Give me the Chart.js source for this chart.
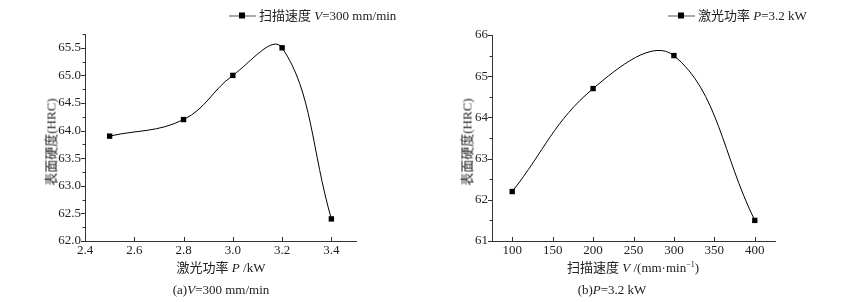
<!DOCTYPE html>
<html>
<head>
<meta charset="utf-8">
<script src="https://cdn.jsdelivr.net/npm/chart.js@4/dist/chart.umd.min.js"></script>
<style>
  html, body { margin: 0; padding: 0; background: #fff; }
  #wrap { position: relative; width: 847px; height: 302px; overflow: hidden; }
  canvas { position: absolute; top: 0; }
  .t {
    position: absolute;
    white-space: nowrap;
    transform: translate(-50%, -50%);
    font: 13px "Liberation Serif", "Noto Sans CJK SC", serif;
    color: #222;
    line-height: 1;
  }
  .t i { font-style: italic; }
  .t sup { font-size: 8px; vertical-align: 5px; }
  .rot { transform: translate(-50%, -50%) rotate(-90deg); }
  .leg { position: absolute; white-space: nowrap; font: 13px "Liberation Serif", "Noto Sans CJK SC", serif; color: #222; line-height: 1; transform: translateY(-50%); }
  .sym { display: inline-block; position: relative; width: 27px; height: 10px; vertical-align: -1px; margin-right: 3px; }
  .sym:before { content: ""; position: absolute; left: 0; right: 0; top: 5px; border-top: 1px solid #555; }
  .sym:after { content: ""; position: absolute; left: 10px; top: 2px; width: 6px; height: 6px; background: #000; }
</style>
</head>
<body>
<div id="wrap">
  <canvas id="chartPower" width="423" height="302" style="left:0"></canvas>
  <canvas id="chartSpeed" width="424" height="302" style="left:423px"></canvas>

  <div class="leg" style="left:229px; top:15px"><span class="sym"></span>扫描速度 <i>V</i>=300 mm/min</div>
  <div class="leg" style="left:668px; top:15px"><span class="sym"></span>激光功率 <i>P</i>=3.2 kW</div>

  <div class="t rot" style="left:51px; top:142px">表面硬度(HRC)</div>
  <div class="t rot" style="left:467px; top:142px">表面硬度(HRC)</div>

  <div class="t" style="left:221px; top:267px">激光功率 <i>P</i> /kW</div>
  <div class="t" style="left:633px; top:267px">扫描速度 <i>V</i> /(mm·min<sup>−1</sup>)</div>

  <div class="t" style="left:221px; top:289px">(a)<i>V</i>=300 mm/min</div>
  <div class="t" style="left:612px; top:289px">(b)<i>P</i>=3.2 kW</div>
</div>

<script>
// (a) V = 300 mm/min, hardness vs laser power
const powerLevels = [2.5, 2.8, 3.0, 3.2, 3.4];
const hardnessByPower = [63.9, 64.2, 65.0, 65.5, 62.4];
const powerTicks = [2.4, 2.6, 2.8, 3.0, 3.2, 3.4];
const hardnessTicksA = [62.0, 62.5, 63.0, 63.5, 64.0, 64.5, 65.0, 65.5];

// (b) P = 3.2 kW, hardness vs scan speed
const scanSpeeds = [100, 200, 300, 400];
const hardnessBySpeed = [62.2, 64.7, 65.5, 61.5];
const speedTicks = [100, 150, 200, 250, 300, 350, 400];
const hardnessTicksB = [61, 62, 63, 64, 65, 66];

const serif = "'Liberation Serif', 'Times New Roman', serif";
const axisColor = '#333';

// ticks: x ticks point up into the plot, y ticks point out, plus minor y ticks
const axisTicks = {
  id: 'axisTicks',
  afterDraw(chart, args, opts) {
    const ctx = chart.ctx;
    const xs = chart.scales.x, ys = chart.scales.y;
    const { left, bottom } = chart.chartArea;
    ctx.save();
    ctx.strokeStyle = axisColor;
    ctx.lineWidth = 1;
    ctx.beginPath();
    xs.ticks.forEach(t => {
      const px = Math.round(xs.getPixelForValue(t.value)) + 0.5;
      ctx.moveTo(px, bottom);
      ctx.lineTo(px, bottom - 4);
    });
    ys.ticks.forEach(t => {
      const py = Math.round(ys.getPixelForValue(t.value)) + 0.5;
      ctx.moveTo(left, py);
      ctx.lineTo(left - 4, py);
      const m = t.value + opts.minor;
      if (m <= ys.max + 1e-9) {
        const pm = Math.round(ys.getPixelForValue(m)) + 0.5;
        ctx.moveTo(left, pm);
        ctx.lineTo(left - 2.5, pm);
      }
    });
    ctx.stroke();
    ctx.restore();
  }
};

function makeChart(id, xs, ys, cfg) {
  const points = xs.map((x, i) => ({ x: x, y: ys[i] }));
  return new Chart(document.getElementById(id), {
    type: 'scatter',
    data: {
      datasets: [{
        data: points,
        showLine: true,
        borderColor: '#000',
        borderWidth: 1,
        tension: cfg.tension,
        pointStyle: 'rect',
        pointRadius: 3.8,
        pointBackgroundColor: '#000',
        pointBorderWidth: 0
      }]
    },
    options: {
      responsive: false,
      animation: false,
      events: [],
      layout: { padding: cfg.padding },
      elements: { line: { capBezierPoints: false } },
      plugins: {
        legend: { display: false },
        tooltip: { enabled: false },
        axisTicks: { minor: cfg.yMinor }
      },
      scales: {
        x: {
          type: 'linear',
          min: cfg.xMin,
          max: cfg.xMax,
          afterBuildTicks(s) { s.ticks = cfg.xTicks.map(v => ({ value: v })); },
          afterFit(s) { s.height = 61; },
          grid: { display: true, drawOnChartArea: false, drawTicks: false },
          border: { display: true, color: axisColor, width: 1 },
          ticks: {
            padding: 2,
            color: '#222',
            font: { family: serif, size: 13 },
            maxRotation: 0,
            autoSkip: false,
            callback: cfg.xFormat
          }
        },
        y: {
          type: 'linear',
          min: cfg.yMin,
          max: cfg.yMax,
          afterBuildTicks(s) { s.ticks = cfg.yTicks.map(v => ({ value: v })); },
          afterFit(s) { s.width = cfg.yWidth; },
          grid: { display: true, drawOnChartArea: false, drawTicks: false },
          border: { display: true, color: axisColor, width: 1 },
          ticks: {
            padding: 4,
            color: '#222',
            font: { family: serif, size: 13 },
            autoSkip: false,
            callback: cfg.yFormat
          }
        }
      }
    },
    plugins: [axisTicks]
  });
}

makeChart('chartPower', powerLevels, hardnessByPower, {
  padding: { left: 0, right: 67, top: 34, bottom: 0 },
  yWidth: 85,
  xMin: 2.4, xMax: 3.5, xTicks: powerTicks,
  yMin: 62, yMax: 65.75, yTicks: hardnessTicksA, yMinor: 0.25,
  tension: 0.4,
  xFormat: v => Number(v).toFixed(1),
  yFormat: v => Number(v).toFixed(1)
});

makeChart('chartSpeed', scanSpeeds, hardnessBySpeed, {
  padding: { left: 0, right: 72, top: 35, bottom: 0 },
  yWidth: 69,
  xMin: 75, xMax: 425, xTicks: speedTicks,
  yMin: 61, yMax: 66, yTicks: hardnessTicksB, yMinor: 0.5,
  tension: 0.4,
  xFormat: v => String(v),
  yFormat: v => String(v)
});
</script>
</body>
</html>
